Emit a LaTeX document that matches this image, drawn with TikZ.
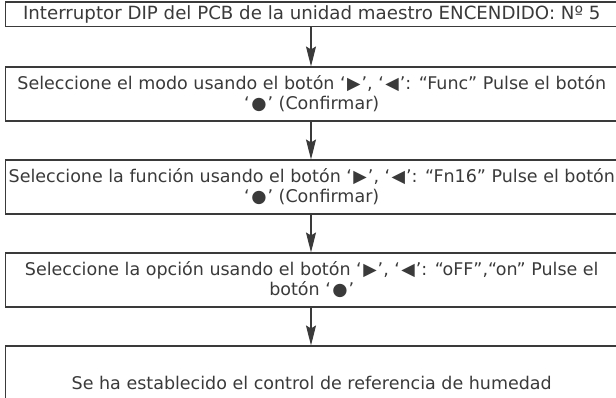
\documentclass[tikz,border=0pt]{standalone}
\usepackage{fontspec}
\setmainfont{DejaVu Sans}
\newfontfamily\symfont{DejaVu Sans}
\usetikzlibrary{arrows.meta}
\definecolor{inkc}{HTML}{3A3A3A}
\newcommand{\tri}{\hspace{1.5pt}{\symfont ▶}\hspace{1pt}}
\newcommand{\trl}{\hspace{1.5pt}{\symfont ◀}\hspace{1pt}}
\newcommand{\dotb}{\hspace{1.5pt}{\symfont ●}\hspace{1pt}}
\tikzset{
  flowbox/.style={draw=inkc, line width=1.1pt, inner sep=0pt, align=center,
    minimum width=612.5pt, text=inkc, font=\fontsize{17.5}{20}\selectfont},
  flowarrow/.style={draw=inkc, line width=1.1pt, -{Stealth[length=20pt,width=10pt,inset=3pt]}}
}
\begin{document}
\begin{tikzpicture}[x=1pt,y=-1pt]
\useasboundingbox (0,0) rectangle (616,397);
\node[flowbox, minimum height=24.5pt, font=\fontsize{18.2}{20}\selectfont] (b1) at (311.75,14.25)
  {Interruptor DIP del PCB de la unidad maestro ENCENDIDO: Nº 5};
\node[flowbox, minimum height=54pt] (b2) at (311.75,94)
  {Seleccione el modo usando el botón ‘\tri’, ‘\trl’: “Func” Pulse el botón\\ ‘\dotb’ (Confirmar)};
\node[flowbox, minimum height=54pt] (b3) at (311.75,187)
  {Seleccione la función usando el botón ‘\tri’, ‘\trl’: “Fn16” Pulse el botón\\ ‘\dotb’ (Confirmar)};
\node[flowbox, minimum height=54pt] (b4) at (311.75,280)
  {Seleccione la opción usando el botón ‘\tri’, ‘\trl’: “oFF”,“on” Pulse el\\ botón ‘\dotb’};
\node[flowbox, minimum height=74pt] (b5) at (311.75,383)
  {Se ha establecido el control de referencia de humedad};
\draw[flowarrow] (b1.south -| 311,0) -- (b2.north -| 311,0);
\draw[flowarrow] (b2.south -| 311,0) -- (b3.north -| 311,0);
\draw[flowarrow] (b3.south -| 311,0) -- (b4.north -| 311,0);
\draw[flowarrow] (b4.south -| 311,0) -- (b5.north -| 311,0);
\end{tikzpicture}
\end{document}
